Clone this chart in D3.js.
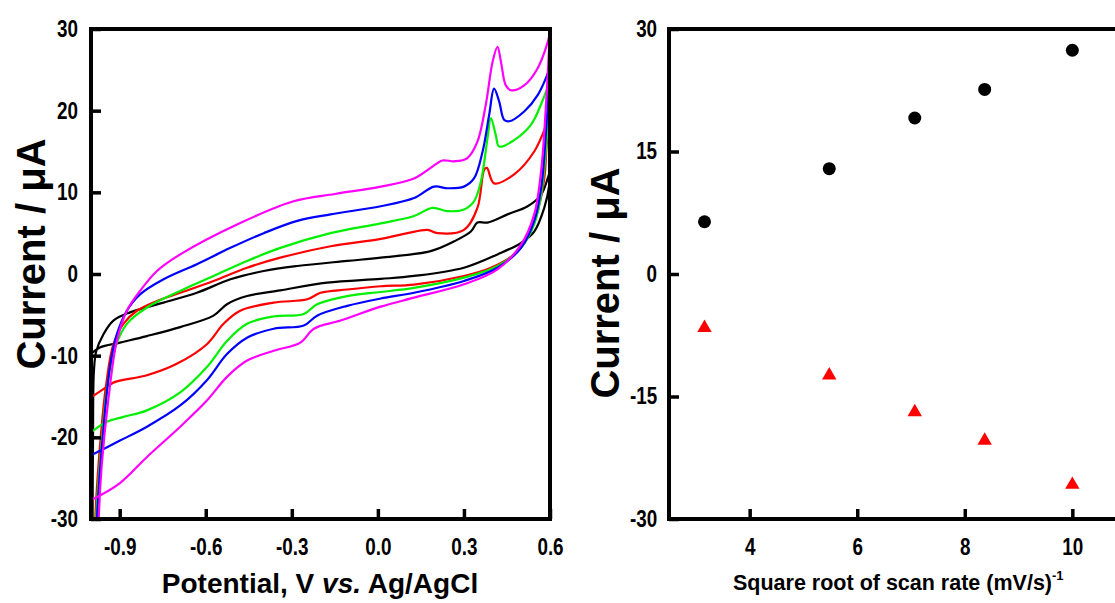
<!DOCTYPE html>
<html>
<head>
<meta charset="utf-8">
<script src="https://cdn.jsdelivr.net/npm/d3@7"></script>
<style>
  body { margin: 0; background: #fff; }
  svg text { font-family: "Liberation Sans", Arial, sans-serif; font-weight: bold; fill: #000; }
</style>
</head>
<body>
<svg id="fig" width="1115" height="603"></svg>
<script>
// cyclic voltammograms, [potential V, current uA], forward then reverse sweep
const cvBlack = [[-0.995,-35],[-0.993,-20],[-0.99,-12],[-0.982,-9.5],[-0.957,-7.4],[-0.922,-5.7],[-0.864,-4.7],[-0.747,-3.5],[-0.631,-2.3],[-0.514,-0.65],[-0.398,0.37],[-0.281,0.98],[-0.107,1.6],[0.01,2.0],[0.184,2.8],[0.266,4.0],[0.324,5.2],[0.347,6.3],[0.382,6.3],[0.452,7.3],[0.522,8.3],[0.569,9.7],[0.592,11.7],[0.6,12.5],
  [0.598,11],[0.58,8.1],[0.545,5.2],[0.499,3.8],[0.417,2.4],[0.30,0.77],[0.126,-0.24],[0.01,-0.6],[-0.177,-1.06],[-0.34,-2.0],[-0.456,-2.7],[-0.526,-3.7],[-0.573,-5.1],[-0.689,-6.5],[-0.805,-7.6],[-0.899,-8.4],[-0.969,-9.0],[-1.0,-9.8]];
const cvRed = [[-0.987,-35],[-0.985,-30],[-0.965,-19.5],[-0.947,-13.5],[-0.922,-8.6],[-0.887,-6.1],[-0.84,-4.5],[-0.77,-3.3],[-0.689,-2.3],[-0.573,-0.85],[-0.456,0.77],[-0.34,2.0],[-0.165,3.4],[0.01,4.3],[0.103,5.0],[0.173,5.4],[0.208,5.0],[0.30,5.4],[0.347,8.1],[0.371,12.8],[0.38,13.0],[0.405,11.1],[0.475,12.2],[0.545,15.0],[0.592,18.7],[0.6,19.5],
  [0.598,17.5],[0.59,16.2],[0.58,11.7],[0.557,7.7],[0.522,4.4],[0.475,2.4],[0.394,0.77],[0.30,-0.24],[0.126,-1.3],[0.01,-1.5],[-0.107,-1.9],[-0.2,-2.3],[-0.246,-3.1],[-0.363,-3.5],[-0.48,-4.5],[-0.538,-6.1],[-0.596,-8.6],[-0.701,-11.0],[-0.805,-12.4],[-0.922,-13.3],[-0.957,-14.1],[-1.0,-15.1]];
const cvGreen = [[-0.984,-35],[-0.982,-30],[-0.96,-19.5],[-0.942,-13.5],[-0.916,-9.0],[-0.875,-6.1],[-0.805,-4.1],[-0.689,-2.07],[-0.573,-0.24],[-0.456,1.6],[-0.34,3.2],[-0.165,5.0],[0.01,6.2],[0.126,7.1],[0.19,8.1],[0.243,7.7],[0.30,7.9],[0.335,8.9],[0.359,11.3],[0.382,16.6],[0.394,19.1],[0.411,17.0],[0.423,15.6],[0.475,16.4],[0.534,18.3],[0.575,21.3],[0.6,23.5],
  [0.598,22.6],[0.586,15.4],[0.569,9.7],[0.545,6.1],[0.499,3.2],[0.417,0.98],[0.30,-0.45],[0.126,-1.7],[0.01,-2.2],[-0.107,-2.7],[-0.212,-3.7],[-0.258,-4.9],[-0.363,-5.2],[-0.456,-6.1],[-0.526,-8.2],[-0.596,-11.4],[-0.689,-14.5],[-0.805,-16.7],[-0.887,-17.5],[-0.945,-18.1],[-1.0,-19.4]];
const cvBlue = [[-0.981,-35],[-0.979,-30],[-0.958,-19.5],[-0.934,-11.4],[-0.91,-7.4],[-0.875,-4.5],[-0.829,-2.5],[-0.747,-0.65],[-0.631,1.2],[-0.514,3.2],[-0.398,5.0],[-0.281,6.5],[-0.165,7.3],[0.01,8.3],[0.126,9.3],[0.196,10.7],[0.243,10.5],[0.30,10.7],[0.335,11.7],[0.365,15.0],[0.388,19.5],[0.405,22.7],[0.423,21.1],[0.44,18.9],[0.458,18.7],[0.51,19.9],[0.557,21.9],[0.598,25.2],[0.6,25.8],
  [0.598,24.5],[0.586,17.4],[0.569,10.5],[0.545,6.5],[0.499,3.2],[0.417,0.77],[0.30,-0.85],[0.126,-2.3],[0.01,-3.0],[-0.107,-3.9],[-0.212,-5.1],[-0.258,-6.3],[-0.363,-6.7],[-0.456,-7.8],[-0.526,-9.8],[-0.596,-13.0],[-0.689,-16.1],[-0.805,-18.7],[-0.899,-20.4],[-1.0,-22.2]];
const cvMagenta = [[-0.975,-35],[-0.973,-30],[-0.963,-23.6],[-0.94,-15.5],[-0.91,-8.2],[-0.875,-4.5],[-0.829,-2.07],[-0.77,0.37],[-0.689,2.4],[-0.491,6.06],[-0.294,8.9],[-0.15,9.8],[0.01,10.7],[0.126,11.7],[0.184,13.0],[0.225,13.9],[0.266,13.8],[0.312,14.2],[0.347,16.2],[0.376,20.7],[0.40,26.0],[0.417,27.8],[0.429,26],[0.446,23.1],[0.464,22.5],[0.51,23.1],[0.557,25.2],[0.598,29.2],[0.6,30],
  [0.598,28.5],[0.586,20.7],[0.569,12.6],[0.545,7.3],[0.499,3.6],[0.417,0.57],[0.30,-1.26],[0.126,-2.9],[0.01,-4.0],[-0.13,-5.7],[-0.223,-6.7],[-0.27,-8.4],[-0.363,-9.4],[-0.456,-10.6],[-0.526,-12.6],[-0.596,-15.5],[-0.689,-18.7],[-0.805,-22.4],[-0.899,-25.6],[-1.0,-27.7]];

// peak currents vs square root of scan rate
const scanRoot = [3.16, 5.48, 7.07, 8.37, 10.0];
const anodicPeak = [6.4, 12.9, 19.1, 22.6, 27.4];
const cathodicPeak = [-6.6, -12.4, -16.9, -20.4, -25.8];

const cvTicksX = [-0.9, -0.6, -0.3, 0.0, 0.3, 0.6];
const cvTicksY = [-30, -20, -10, 0, 10, 20, 30];
const peakTicksX = [4, 6, 8, 10];
const peakTicksY = [-30, -15, 0, 15, 30];

const scans = [cvBlack, cvRed, cvGreen, cvBlue, cvMagenta];
const scanColors = ["#000000", "#ff0000", "#00f000", "#0000ff", "#ff00ff"];

const svg = d3.select("#fig");

const plotTop = 29, plotBottom = 519;

const xCV = d3.scaleLinear().domain([-1.0, 0.6]).range([91, 550]);
const yCV = d3.scaleLinear().domain([-30, 30]).range([plotBottom, plotTop]);
const xPk = d3.scaleLinear().domain([2.5, 11.5]).range([669, 1153]);
const yPk = d3.scaleLinear().domain([-30, 30]).range([plotBottom, plotTop]);

const drawAxes = (x, y, xTicks, yTicks, xFmt, yPad) => {
    const gx = svg.append("g")
        .attr("transform", `translate(0,${plotBottom})`)
        .call(d3.axisBottom(x).tickValues(xTicks).tickSize(-10).tickPadding(20).tickFormat(xFmt));
    const gy = svg.append("g")
        .attr("transform", `translate(${x.range()[0]},0)`)
        .call(d3.axisLeft(y).tickValues(yTicks).tickSize(-10).tickPadding(yPad).tickFormat(d => String(d)));
    [gx, gy].forEach(g => {
        g.select(".domain").remove();
        g.selectAll(".tick line").attr("stroke", "#000").attr("stroke-width", 3.5);
        g.selectAll(".tick text")
            .attr("transform", "scale(0.82,1)")
            .style("font-size", "23px");
    });
    svg.append("rect")
        .attr("x", x.range()[0])
        .attr("y", plotTop)
        .attr("width", x.range()[1] - x.range()[0])
        .attr("height", plotBottom - plotTop)
        .attr("fill", "none")
        .attr("stroke", "#000")
        .attr("stroke-width", 4);
};

// left panel: CV curves
svg.append("defs").append("clipPath").attr("id", "cvclip")
    .append("rect")
    .attr("x", xCV.range()[0]).attr("y", plotTop)
    .attr("width", xCV.range()[1] - xCV.range()[0]).attr("height", plotBottom - plotTop);

const line = d3.line()
    .x(d => xCV(d[0]))
    .y(d => yCV(d[1]))
    .curve(d3.curveCatmullRom.alpha(0.5));

svg.append("g").attr("clip-path", "url(#cvclip)")
    .selectAll("path")
    .data(scans)
    .enter().append("path")
    .attr("d", line)
    .attr("fill", "none")
    .attr("stroke", (d, i) => scanColors[i])
    .attr("stroke-width", 2.2)
    .attr("stroke-linejoin", "round");

drawAxes(xCV, yCV, cvTicksX, cvTicksY, d => d.toFixed(1), 16);

svg.append("text")
    .attr("transform", "translate(45,254) rotate(-90)")
    .attr("text-anchor", "middle")
    .style("font-size", "40px")
    .text("Current / μA");

const xt = svg.append("text")
    .attr("x", 320).attr("y", 593)
    .attr("text-anchor", "middle")
    .style("font-size", "28px");
xt.append("tspan").text("Potential, V ");
xt.append("tspan").style("font-style", "italic").text("vs.");
xt.append("tspan").text(" Ag/AgCl");

// right panel: peak currents
drawAxes(xPk, yPk, peakTicksX, peakTicksY, d => String(d), 14.5);

svg.append("g").selectAll("circle")
    .data(scanRoot)
    .enter().append("circle")
    .attr("cx", d => xPk(d))
    .attr("cy", (d, i) => yPk(anodicPeak[i]))
    .attr("r", 6.5)
    .attr("fill", "#000");

svg.append("g").selectAll("path")
    .data(scanRoot)
    .enter().append("path")
    .attr("transform", (d, i) => `translate(${xPk(d)},${yPk(cathodicPeak[i])})`)
    .attr("d", d3.symbol().type(d3.symbolTriangle).size(90))
    .attr("fill", "#ff0000");

svg.append("text")
    .attr("transform", "translate(619,283) rotate(-90)")
    .attr("text-anchor", "middle")
    .style("font-size", "40px")
    .text("Current / μA");

const xt2 = svg.append("text")
    .attr("x", 733).attr("y", 590)
    .style("font-size", "21.5px");
xt2.append("tspan").text("Square root of scan rate (mV/s)");
xt2.append("tspan").attr("dy", -10).style("font-size", "13px").text("-1");
</script>
</body>
</html>
